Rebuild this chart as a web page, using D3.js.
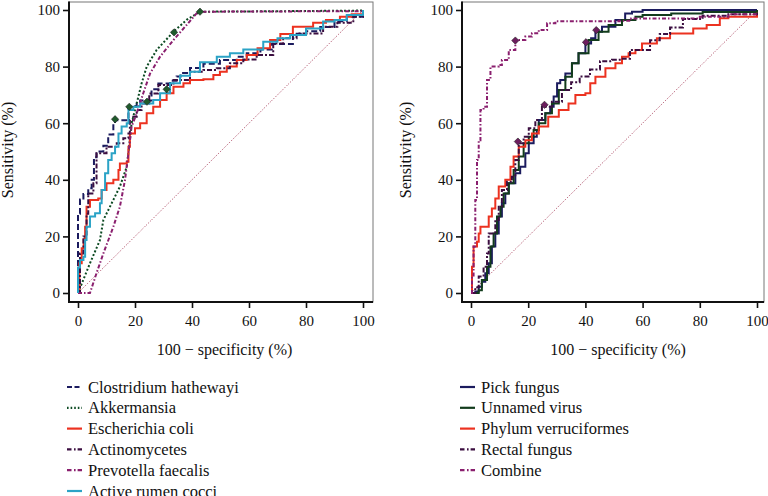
<!DOCTYPE html>
<html><head><meta charset="utf-8">
<script src="https://cdn.jsdelivr.net/npm/d3@7"></script>
<style>
html,body{margin:0;padding:0;background:#fff;}
svg{display:block;}
svg text{font-family:"Liberation Serif","DejaVu Serif",serif !important;}
</style></head>
<body><svg id="c" width="768" height="496"></svg>
<script>
// ---------- DATA ----------
const tickValues = [0, 20, 40, 60, 80, 100];
const xLabel = "100 − specificity (%)";
const yLabel = "Sensitivity (%)";

// left panel
const leftNames = ["Clostridium hathewayi","Akkermansia","Escherichia coli","Actinomycetes","Prevotella faecalis","Active rumen cocci"];
const clostridium = [[0,0],[0,28],[0.7,33],[1.9,35],[3.6,37],[4.8,40],[5.6,48],[6.5,50],[8.9,52],[10.6,56],[12.4,60],[13,61],[16.5,61],[17.7,66],[20.6,67],[21.8,68],[25.8,72],[28.2,74],[32.3,75],[34.6,76.5],[36,77.7],[39.3,79.5],[44,81],[49.8,82.3],[55.7,83.5],[59.2,84.7],[64,86],[68,88],[75.4,91.6],[80,92.5],[85,94],[90,96],[94.3,97.6],[100,99.5]];
const akkermansia = [[0,0],[4.2,10.5],[7.7,18.7],[8.9,25.8],[12.4,32.9],[14.7,37.6],[17.1,44.6],[18.2,54],[18.8,60],[20.6,67],[22.3,74],[24.1,80],[27.6,85.9],[33.5,92.3],[38.1,96.5],[42.8,99.4],[60,99.5],[100,99.8]];
const ecoli = [[0,0],[0.5,10.5],[1.3,15.8],[2,19],[2.5,23.4],[3,30.5],[4.2,32.9],[7.1,33.4],[8.3,36.4],[10,38.8],[12.4,40],[14.2,43.5],[14.7,45.8],[17.1,46.4],[17.7,51.7],[18.2,56.4],[20,58.2],[21.8,60],[24.1,63.5],[26.4,65.8],[28.8,68.2],[31.1,70.6],[33.5,72.9],[37,74.1],[39.3,75.3],[44,75.5],[47.5,77],[49.8,78.2],[52.2,80],[55.7,82.3],[59.2,84.1],[63,86.5],[67.4,89.4],[71,91.5],[75.4,94.1],[82.5,95.5],[87,96.5],[91.9,97.6],[96,98.5],[100,100]];
const actinomycetes = [[0,0],[0.7,14],[1.9,20],[3,28],[3.6,35.2],[5.4,38.8],[6.5,49.4],[10,51.7],[13.6,52.9],[15.9,54.7],[17.7,56.4],[18.2,61.1],[19.4,62.3],[20.6,64.7],[22.3,67],[25,70.5],[28.2,73.5],[33.5,75.3],[39.3,78.2],[44,78.8],[48.7,79.4],[53.3,81.2],[58,82.5],[62.7,84.1],[68.5,88.2],[72,90],[76.7,91.7],[86,94.1],[91,95.5],[96.6,97.6],[100,99]];
const prevotella = [[0,0],[4.2,0],[6.5,7],[8.9,14],[12.4,23.4],[14.7,30.5],[16.5,40],[17.7,49.4],[18.8,58.8],[20.6,63.5],[22.9,70.6],[25.3,77.6],[28.8,83.5],[33.5,89.4],[38.1,94.7],[41.6,98.8],[44,99.4],[100,99.6]];
const rumenCocci = [[0,0],[0,9],[0.7,11.7],[1.9,12.8],[2.5,18.7],[3,23.4],[4.2,27],[6,28.2],[7.7,31.7],[8.3,36.4],[9.5,42.3],[10.6,47],[11.8,49.4],[13,51.7],[14.2,56.4],[15.3,58.8],[17.1,60],[17.7,64.7],[19.4,65.8],[21.8,67],[26.4,68.2],[28.8,70.6],[32.3,74.1],[35.8,76.8],[39.3,78.2],[42.8,81.5],[48.7,83.5],[53.3,84.7],[58,86],[65,88.8],[70,90],[74.4,91.2],[80,93.5],[86,95.9],[90,96.5],[94.3,98.2],[100,100]];
const leftMarkers = [[13,61.4],[18,65.8],[24.2,67.6],[31.1,72],[33.7,92.1],[42.8,99.4]];

// right panel
const rightNames = ["Pick fungus","Unnamed virus","Phylum verruciformes","Rectal fungus","Combine"];
const pickFungus = [[0,0],[1.5,0.5],[2.7,2.2],[3.8,4],[5,7],[6.2,10.5],[7.3,16.4],[8.5,21],[9.7,27],[10.8,31.7],[12,35.2],[13.2,38.8],[15.5,42.3],[17.2,44.6],[19,49.4],[20.2,52.9],[21.9,55.2],[23,57.6],[23.7,61.1],[26,63.5],[27.7,65.8],[28.9,69.4],[30.1,74.1],[31.2,75.3],[33,77.6],[35.3,81.2],[37.6,84.7],[40,88.2],[42,90],[43.5,92.3],[45.8,94.1],[50.5,96.5],[53.9,98.8],[56.3,99.4],[60,100],[100,100]];
const unnamedVirus = [[0,0],[1.5,0],[2.7,1],[3.8,4.6],[5.6,9.3],[6.8,16.4],[7.9,21],[9.1,27],[10.3,30.5],[11.4,35.2],[13.2,38.8],[14.9,43.5],[16.7,48.2],[18.4,52.9],[20.2,55.2],[21.9,57.6],[23.7,60],[26,63.5],[28.3,67],[30.7,71.7],[33,76.4],[35.3,81.2],[37.6,84.7],[41.1,89.4],[44.6,92.3],[48.1,94.7],[52.8,96.5],[57.5,97.6],[60,98.2],[70,98.8],[81,99.3],[100,100]];
const phylumVerru = [[0,0],[0.35,9.3],[0.9,16.4],[2.1,18.1],[2.7,21],[3.3,23.4],[5.6,23.4],[6.2,27],[7.3,29.9],[8.5,33.4],[9.7,37.6],[12,40],[13.8,44.6],[14.9,48.2],[16.7,51.7],[19,54],[21.3,56.4],[23.7,58.8],[27,62.3],[30.7,64.7],[34.1,67],[36.5,70],[40,70.6],[41.7,74.1],[43.5,76.4],[47,79.4],[50.5,81.2],[52.8,83.5],[55.1,84.7],[57.5,85.9],[59.8,88.2],[65,90],[69.6,91.7],[77.7,93.5],[82.4,94.7],[87,97.1],[90,97.6],[100,99]];
const rectalFungus = [[0,0],[1.5,2],[2.7,5.8],[4.4,9.3],[5.6,14],[6.2,21],[8.5,25.8],[9.7,30.5],[10.8,36.4],[12.6,39.3],[14.3,41.1],[15.5,47],[16.7,52.9],[18.4,55.2],[20.2,58.2],[22.5,61.1],[24.8,65.8],[28.3,67.6],[31.8,71.7],[35,74.5],[38,76.5],[41.6,79],[45.1,81.9],[49.3,82.4],[52,82.8],[55.6,85.9],[62.6,89.3],[66,91.5],[69.6,93.8],[74.1,96.8],[81,98],[90,98.5],[100,99]];
const combine = [[0,0],[0.35,5.8],[0.9,16.4],[1.5,32.9],[2.1,47],[2.7,54],[3.3,64.7],[4.4,65.8],[5.6,75.3],[6.8,80],[9.7,80.6],[10.8,82.3],[13.2,85.9],[15.5,89.4],[19,90.6],[21.3,91.8],[23.7,92.9],[26.6,95.3],[29.5,96],[52,96.2],[56,97],[80,97.6],[90,98.5],[100,99]];
const rightMarkers = [[15.5,89.2],[25.7,66.5],[16.4,53.5],[40.2,88.6],[43.8,92.9]];

const diagonal = [[0,0],[100,100]];

// ---------- STYLES ----------
const C = {navy:"#1b1b5e", green:"#0c4a22", red:"#ec3220", dpurple:"#3b0e40", magenta:"#8a1f6e", cyan:"#2ba3c6", vgreen:"#123c1c"};
const DASH = {dash:"6,3", dot:"2,2", solid:null, dashdot:"5,2,2,2", dashdotdot:"4,2,1.5,2"};
const LEGDASH = {dash:"5,2.5", dot:"1.6,2", solid:null, dashdot:"4.5,2.5,1.6,2", dashdotdot:"4.5,2.5,1.6,2"};
const FONT = '"Liberation Serif","DejaVu Serif",serif';

const svg = d3.select("#c");

function panel(cfg){
  const g = svg.append("g");
  const x = d3.scaleLinear().domain([0,100]).range([cfg.x0, cfg.x1]);
  const y = d3.scaleLinear().domain([0,100]).range([293, 10]);
  g.append("rect").attr("x", cfg.fl).attr("y", 2).attr("width", cfg.fr - cfg.fl).attr("height", 300)
    .attr("fill","none").attr("stroke","#777").attr("stroke-width",1);
  const lin = d3.line().x(d=>x(d[0])).y(d=>y(d[1]));
  g.append("path").attr("d", lin(diagonal)).attr("fill","none")
    .attr("stroke","#9e2a48").attr("stroke-width",0.9).attr("stroke-dasharray","1,1.6");
  cfg.series.forEach(s=>{
    const gen = d3.line().x(d=>x(d[0])).y(d=>y(d[1])).curve(s.step ? d3.curveStepAfter : d3.curveLinear);
    g.append("path").attr("d", gen(s.data)).attr("fill","none")
      .attr("stroke", s.color).attr("stroke-width", 2)
      .attr("stroke-dasharray", DASH[s.dash]);
  });
  const sym = d3.symbol().type(d3.symbolDiamond2).size(34);
  g.selectAll(".mk").data(cfg.markers).join("path")
    .attr("transform", d=>`translate(${x(d[0])},${y(d[1])})`)
    .attr("d", sym).attr("fill", cfg.markerColor).attr("stroke","#222").attr("stroke-width",0.6);
  const ya = g.append("g").attr("transform",`translate(${cfg.fl},0)`)
    .call(d3.axisLeft(y).tickValues(tickValues).tickSize(6).tickPadding(3).tickSizeOuter(0));
  const xa = g.append("g").attr("transform","translate(0,302)")
    .call(d3.axisBottom(x).tickValues(tickValues).tickSize(6).tickPadding(7).tickSizeOuter(0));
  [ya, xa].forEach(a=>{
    a.attr("font-family", FONT);
    a.select(".domain").remove();
    a.selectAll("line").attr("stroke","#111").attr("stroke-width",1.6);
    a.selectAll("text").attr("font-size",15).attr("fill","#111").attr("font-family",FONT);
  });
  g.append("line").attr("x1",cfg.fl).attr("x2",cfg.fl).attr("y1",1.5).attr("y2",303).attr("stroke","#111").attr("stroke-width",2);
  g.append("line").attr("x1",cfg.fl).attr("x2",cfg.fr).attr("y1",302).attr("y2",302).attr("stroke","#111").attr("stroke-width",2);
  g.append("text").attr("x",(cfg.x0+cfg.x1)/2 + 4).attr("y",355).attr("text-anchor","middle")
    .attr("font-family",FONT).attr("font-size",16).attr("fill","#111").text(xLabel);
  g.append("text").attr("transform",`translate(${cfg.yl},150) rotate(-90)`).attr("text-anchor","middle")
    .attr("font-family",FONT).attr("font-size",16).attr("fill","#111").text(yLabel);
  const lg = g.append("g");
  cfg.series.forEach((s,i)=>{
    const yy = 387 + i*20.8;
    lg.append("line").attr("x1",cfg.lx).attr("x2",cfg.lx+15).attr("y1",yy).attr("y2",yy)
      .attr("stroke", s.color).attr("stroke-width",2.2).attr("stroke-dasharray", LEGDASH[s.dash]);
    lg.append("text").attr("x",cfg.lx+21).attr("y",yy+5.5).attr("font-family",FONT).attr("font-size",16.5).attr("fill","#111").text(cfg.names[i]);
  });
}

panel({
  x0:78, x1:363, fl:69, fr:373, yl:13, lx:67, names:leftNames,
  markers:leftMarkers, markerColor:"#1f5a2c",
  series:[
    {data:clostridium, color:C.navy, dash:"dash", step:true},
    {data:akkermansia, color:C.green, dash:"dot", step:false},
    {data:ecoli, color:C.red, dash:"solid", step:true},
    {data:actinomycetes, color:C.dpurple, dash:"dashdot", step:true},
    {data:prevotella, color:C.magenta, dash:"dashdotdot", step:false},
    {data:rumenCocci, color:C.cyan, dash:"solid", step:true}
  ]
});
panel({
  x0:471, x1:757, fl:462, fr:764, yl:411, lx:460, names:rightNames,
  markers:rightMarkers, markerColor:"#6c1d5e",
  series:[
    {data:pickFungus, color:C.navy, dash:"solid", step:true},
    {data:unnamedVirus, color:C.vgreen, dash:"solid", step:true},
    {data:phylumVerru, color:C.red, dash:"solid", step:true},
    {data:rectalFungus, color:C.dpurple, dash:"dashdot", step:true},
    {data:combine, color:C.magenta, dash:"dashdotdot", step:true}
  ]
});
</script></body></html>
